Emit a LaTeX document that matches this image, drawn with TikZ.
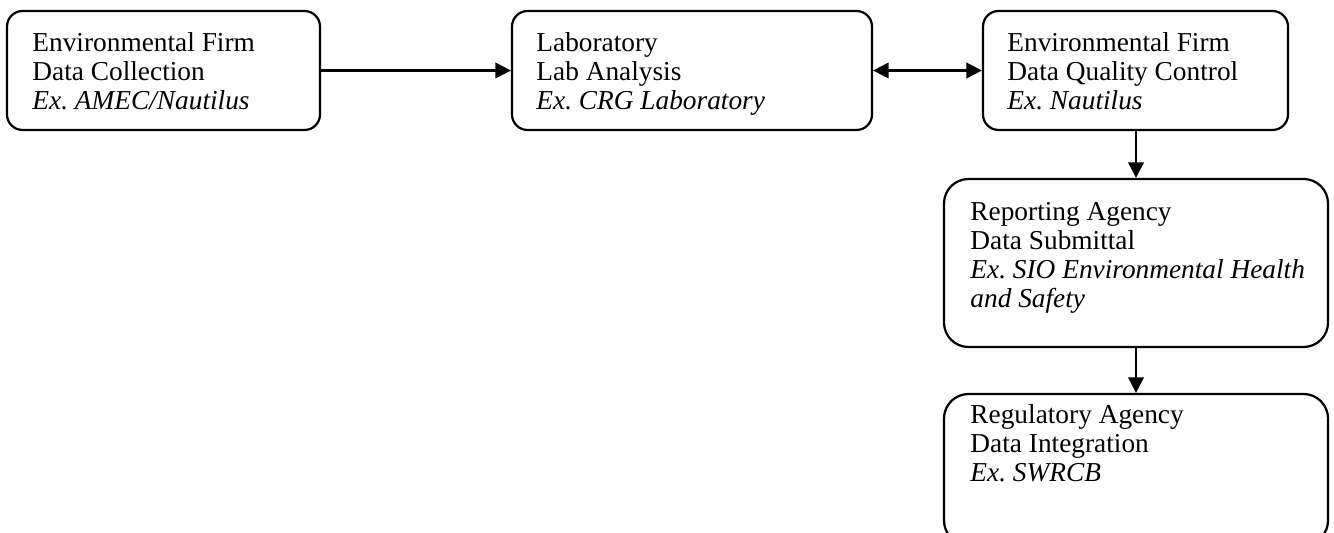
\documentclass[tikz,border=0pt]{standalone}
\usepackage{fontspec}
\setmainfont{Liberation Serif}
\usetikzlibrary{arrows.meta}
\frenchspacing
\begin{document}
\begin{tikzpicture}[x=0.45pt,y=-0.45pt,
  box/.style={draw,line width=1pt,rectangle,inner sep=0pt},
  txt/.style={anchor=north west,inner sep=0pt,align=left,font=\fontsize{12.3}{13.05}\selectfont},
  arr/.style={line width=1pt,-{Triangle[length=7pt,width=7pt]}},
  darr/.style={line width=1pt,{Triangle[length=7pt,width=7pt]}-{Triangle[length=7pt,width=7pt]}}]
\useasboundingbox (0,0) rectangle (1334,533);
\clip (0,0) rectangle (1334,533);
\node[box,rounded corners=7pt,minimum width=140.85pt,minimum height=53.55pt] (b1) at (163.5,70.5) {};
\node[box,rounded corners=7pt,minimum width=162pt,minimum height=53.55pt] (b2) at (692,70.5) {};
\node[box,rounded corners=7pt,minimum width=137.25pt,minimum height=53.55pt] (b3) at (1135.5,70.5) {};
\node[box,rounded corners=11pt,minimum width=172.8pt,minimum height=75.6pt] (b4) at (1136,263) {};
\node[box,rounded corners=11pt,minimum width=172.8pt,minimum height=67.95pt] (b5) at (1136,469.5) {};
\node[txt] (t1) at (32,32.5) {Environmental Firm\\Data Collection\\\textit{Ex. AMEC/Nautilus}};
\node[txt] (t2) at (536,32.5) {Laboratory\\Lab Analysis\\\textit{Ex. CRG Laboratory}};
\node[txt] (t3) at (1007,32.5) {Environmental Firm\\Data Quality Control\\\textit{Ex. Nautilus}};
\node[txt] (t4) at (970,201.5) {Reporting Agency\\Data Submittal\\\textit{Ex. SIO Environmental Health}\\\textit{and Safety}};
\node[txt] (t5) at (970,404) {Regulatory Agency\\Data Integration\\\textit{Ex. SWRCB}};
\draw[arr] (b1.east) -- (b2.west);
\draw[darr] (b2.east) -- (b3.west);
\draw[arr] (b4.north |- b3.south) -- (b4.north);
\draw[arr] (b4.south) -- (b5.north);
\end{tikzpicture}
\end{document}
